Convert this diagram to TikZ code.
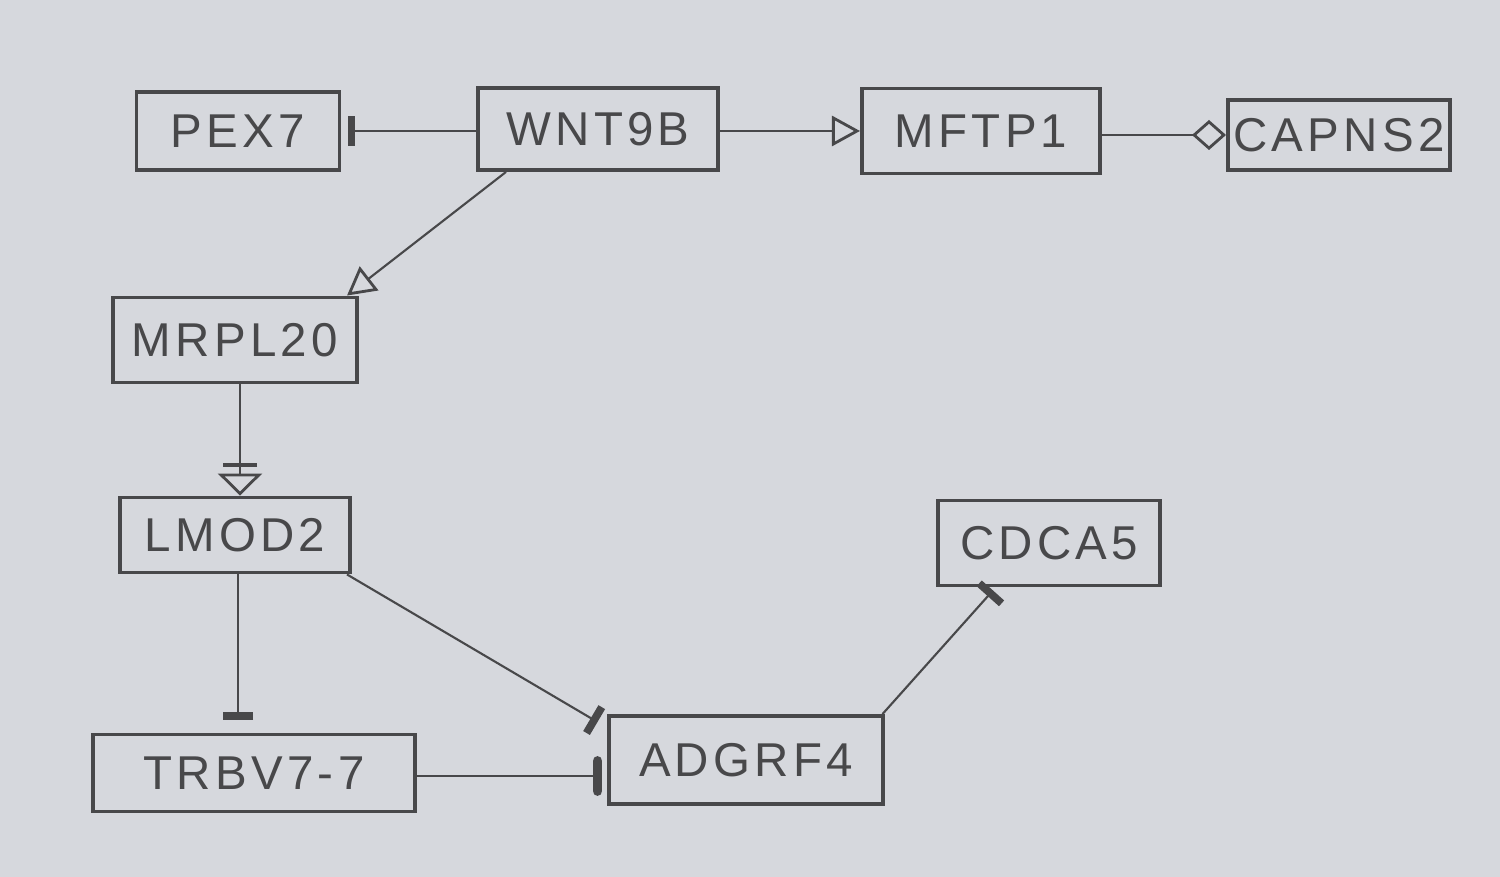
\documentclass[tikz,border=0pt]{standalone}
\usepackage{fontspec}
\newfontfamily\hand[LetterSpace=9]{Liberation Sans}
\usetikzlibrary{arrows.meta}
\definecolor{paper}{RGB}{214,216,221}
\definecolor{pencil}{RGB}{72,72,74}
\tikzset{
  gene/.style={draw=pencil, line width=1.1pt, rectangle, inner sep=0pt,
    font=\hand\fontsize{13.5}{16}\selectfont, text=pencil},
  link/.style={draw=pencil, line width=0.6pt},
  teebar/.style={-{Bar[width=0.3cm,line width=2.2pt]}},
  roundbar/.style={-{Bar[width=0.3cm,line width=2.8pt,round]}},
  opentri/.style={-{Triangle[open,length=0.28cm,width=0.3cm,line width=0.8pt]}},
  opendia/.style={-{Diamond[open,length=0.34cm,width=0.3cm,line width=0.8pt]}},
  bartri/.style={-{Bar[width=0.34cm,line width=0.9pt,sep=0.07cm]Triangle[open,length=0.22cm,width=0.44cm,line width=0.8pt]}}
}
\begin{document}
\begin{tikzpicture}[x=0.01cm,y=-0.01cm]
\fill[paper] (0,0) rectangle (1500,877);
\useasboundingbox (0,0) rectangle (1500,877);
\node[gene, minimum width=2.03cm, minimum height=0.78cm] (p) at (238,131) {PEX7};
\node[gene, minimum width=2.40cm, minimum height=0.82cm] (w) at (598,129) {WNT9B};
\node[gene, minimum width=2.38cm, minimum height=0.85cm] (m) at (981,131) {MFTP1};
\node[gene, minimum width=2.22cm, minimum height=0.70cm] (c) at (1339,135) {CAPNS2};
\node[gene, minimum width=2.44cm, minimum height=0.85cm] (r) at (235,340) {MRPL20};
\node[gene, minimum width=2.30cm, minimum height=0.75cm] (l) at (235,535) {LMOD2};
\node[gene, minimum width=3.22cm, minimum height=0.77cm] (t) at (254,773) {TRBV7-7};
\node[gene, minimum width=2.73cm, minimum height=0.88cm] (a) at (746,760) {ADGRF4};
\node[gene, minimum width=2.22cm, minimum height=0.85cm] (cd) at (1049,543) {CDCA5};

\draw[link, teebar, shorten >=0.06cm] (p.east -| w.west) -- (p.east);
\draw[link, opentri] (w.east |- m.west) -- (m.west);
\draw[link, opendia] (m.east |- c.west) -- (c.west);
\draw[link, opentri] ([xshift=0.3cm]w.south west) -- ([xshift=-0.12cm]r.north east);
\draw[link, bartri] ([xshift=0.05cm]r.south) -- ([xshift=0.05cm]l.north);
\draw[link, teebar, shorten >=0.13cm] ([xshift=0.03cm]l.south) -- ([xshift=0.03cm]l.south |- t.north);
\draw[link, teebar] ([xshift=-0.05cm]l.south east) -- ([xshift=-0.1cm,yshift=-0.08cm]a.north west);
\draw[link, roundbar, shorten >=0.05cm] ([yshift=-0.03cm]t.east) -- ([yshift=-0.03cm]t.east -| a.west);
\draw[link, teebar] ([xshift=-0.02cm]a.north east) -- ([xshift=-0.56cm,yshift=-0.03cm]cd.south);
\end{tikzpicture}
\end{document}
